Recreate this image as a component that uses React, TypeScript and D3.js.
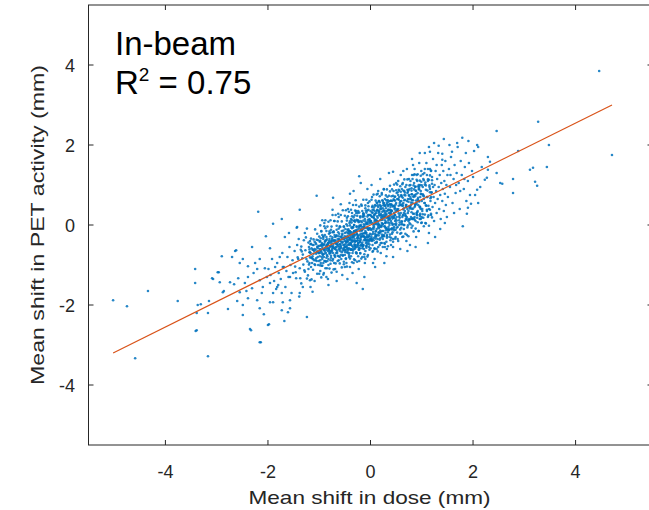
import React from "react";
import * as d3 from "d3";

// Tick values
const xTicks = [-4, -2, 0, 2, 4];
const yTicks = [-4, -2, 0, 2, 4];

// Scatter points [dose shift, PET shift], grouped by region
const outliersLeft: [number, number][] = [
  [-5.02,-1.88],[-4.75,-2.03],[-4.34,-1.65],[-4.59,-3.33],[-3.76,-1.90],[-3.42,-1.10],[-3.42,-1.45],[-3.41,-2.65],[-3.17,-3.28],[-3.31,-1.98],[-3.15,-1.90],[-3.17,-2.20],[-3.39,-2.20],[-3.39,-2.63],[-3.37,-2.00],[-3.09,-1.33],[-3.07,-1.35]
];

const lowerTail: [number, number][] = [
  [-2.64,-0.65],[-2.70,-0.80],[-2.90,-0.78],[-2.55,-0.95],[-2.98,-1.18],[-2.58,-1.33],[-2.74,-1.43],[-2.94,-1.43],[-2.88,-1.68],[-2.55,-1.68],[-2.62,-0.63],[-2.66,-1.48],[-2.86,-1.65],[-2.96,-1.18],[-2.60,-1.90],[-2.78,-2.10],
  [-2.04,-0.28],[-2.31,-0.55],[-2.16,-0.85],[-2.49,-0.85],[-2.39,-1.03],[-2.21,-1.10],[-2.06,-1.08],[-2.39,-1.30],[-2.16,-1.38],[-2.31,-1.58],[-2.12,-1.70],[-2.39,-1.83],[-2.21,-1.88],[-2.49,-2.00],[-2.16,-2.08],[-2.49,-2.25],[-2.35,-2.60],[-2.00,-2.50],[-2.16,-2.93],[-2.33,-2.63],[-2.14,-2.93],[-2.08,-2.23],[-2.19,0.33],[-2.45,-1.45],[-2.28,-1.20],[-2.10,-1.55],[-2.42,-1.65],[-2.25,-0.95],[-2.02,-1.30],
  [-1.98,-2.48],[-1.96,-0.58],[-1.96,-1.45],[-1.96,-1.93],[-1.90,0.03],[-1.90,-1.70],[-1.86,-1.05],[-1.80,-1.50],[-1.77,-0.80],[-1.73,0.15],[-1.73,-2.13],[-1.71,-1.93],[-1.67,-0.30],[-1.57,-2.08],
  [-1.99,-1.10],[-1.95,-1.25],[-1.92,-0.85],[-1.88,-1.40],[-1.84,-1.60],[-1.82,-0.95],[-1.79,-1.20],[-1.75,-1.35],[-1.72,-0.70],[-1.69,-1.05],[-1.66,-1.55],[-1.64,-1.15],[-1.62,-0.80],[-1.60,-1.30],[-1.58,-0.55],[-1.56,-1.00],[-1.54,-1.70],[-1.52,-0.88],[-1.51,-1.20],[-1.59,-0.20],[-1.68,-2.40],
  [-1.57,-1.30],[-1.71,-1.05],[-1.82,-1.55],[-1.73,-1.70],[-1.57,-1.88],[-1.90,-1.93],[-1.61,-2.18],[-1.24,-2.30],[-1.38,-1.70],[-1.32,-1.55],[-1.18,-1.38],[-1.38,0.38],[-1.43,-0.05],[-1.05,0.73],[-0.73,0.68]
];

const coreLeft: [number, number][] = [
  [-1.48,-0.65],[-1.45,-1.33],[-1.42,-0.81],[-1.40,-0.35],[-1.38,-1.08],[-1.36,-0.62],[-1.35,-1.46],[-1.33,-0.83],[-1.31,-0.99],[-1.30,-0.38],
  [-1.28,-1.17],[-1.27,-0.63],[-1.25,-0.85],[-1.24,-0.09],[-1.22,-1.26],[-1.21,-0.44],[-1.20,-0.99],[-1.18,-0.68],[-1.17,-1.55],[-1.16,-0.34],
  [-1.14,-0.83],[-1.13,-0.50],[-1.12,-1.12],[-1.10,-0.65],[-1.09,-0.98],[-1.08,-0.11],[-1.06,-0.83],[-1.05,-0.37],[-1.04,-1.22],[-1.02,-0.53],
  [-1.01,-0.70],[-1.47,-1.04],[-1.43,-0.50],[-1.39,-1.79],[-1.34,-0.66],[-1.29,-1.13],[-1.26,-0.31],[-1.23,-0.91],[-1.19,-0.61],[-1.15,-1.36],
  [-1.11,-0.36],[-1.07,-0.88],[-1.03,-0.66],[-1.44,-0.07],[-1.37,-1.33],[-1.32,-0.74],[-1.21,-1.10],[-1.16,-0.47],[-1.09,-1.40],[-1.04,-0.22],
  [-1.46,-1.18],[-1.41,-0.85],[-1.28,-0.20],[-1.18,-0.81],[-1.13,-1.67],[-1.06,-0.48],[-1.35,-0.54],[-1.24,-1.34],[-1.12,-0.62],[-1.02,-1.00],
  [-0.99,-0.42],[-0.98,-0.88],[-0.97,-0.61],[-0.96,-0.15],[-0.95,-1.02],[-0.94,-0.55],[-0.93,-0.73],[-0.92,-0.30],[-0.91,-1.20],[-0.90,-0.47],
  [-0.89,-0.66],[-0.88,-0.08],[-0.87,-0.92],[-0.86,-0.51],[-0.85,-0.36],[-0.84,-0.78],[-0.83,-1.35],[-0.82,-0.58],[-0.81,-0.22],[-0.80,-0.69],
  [-0.79,-0.44],[-0.78,-0.97],[-0.77,-0.12],[-0.76,-0.53],[-0.75,-0.64],[-0.74,-0.31],[-0.73,-0.85],[-0.72,-0.47],[-0.71,0.10],[-0.70,-0.58],
  [-0.69,-1.10],[-0.68,-0.39],[-0.67,-0.70],[-0.66,-0.26],[-0.65,-0.49],[-0.64,-0.90],[-0.63,-0.18],[-0.62,-0.61],[-0.61,-0.37],[-0.60,-0.80],
  [-0.59,-0.05],[-0.58,-0.52],[-0.57,-0.29],[-0.56,-0.68],[-0.55,-1.25],[-0.54,-0.42],[-0.53,-0.14],[-0.52,-0.57],[-0.51,-0.33],[-0.50,-0.75],
  [-0.99,-0.70],[-0.97,-0.33],[-0.95,-0.80],[-0.93,-0.50],[-0.91,-0.62],[-0.89,-0.25],[-0.87,-0.70],[-0.85,-1.08],[-0.83,-0.45],[-0.81,-0.60],
  [-0.79,-0.20],[-0.77,-0.77],[-0.75,-0.40],[-0.73,-0.56],[-0.71,-0.95],[-0.69,-0.30],[-0.67,-0.47],[-0.65,-0.66],[-0.63,0.28],[-0.61,-0.55],
  [-0.59,-0.40],[-0.57,-0.85],[-0.55,-0.22],[-0.53,-0.50],[-0.51,-0.62],[-0.96,-0.50],[-0.92,-0.95],[-0.88,-0.40],[-0.84,-0.58],[-0.80,-0.35],
  [-0.76,-0.66],[-0.72,-0.18],[-0.68,-0.55],[-0.64,-0.43],[-0.60,-0.60],[-0.56,-0.35],[-0.52,-0.92],[-0.94,-0.25],[-0.86,-0.82],[-0.78,-0.52],
  [-0.70,-0.75],[-0.62,-0.09],[-0.54,-0.64],[-0.98,-1.15],[-0.90,0.05],[-0.82,-1.50],[-0.74,0.38],[-0.66,-1.40],[-0.58,0.52],[-0.50,-1.05]
];

const coreCentre: [number, number][] = [
  [-0.50,-0.20],[-0.49,-0.55],[-0.48,-0.31],[-0.47,0.02],[-0.46,-0.68],[-0.45,-0.27],[-0.44,-0.42],[-0.43,-0.11],[-0.42,-0.80],[-0.41,-0.35],
  [-0.40,-0.16],[-0.39,-0.49],[-0.38,0.15],[-0.37,-0.62],[-0.36,-0.24],[-0.35,-0.38],[-0.34,-0.05],[-0.33,-0.95],[-0.32,-0.29],[-0.31,-0.51],
  [-0.30,0.08],[-0.29,-0.40],[-0.28,-0.18],[-0.27,-0.71],[-0.26,-0.33],[-0.25,0.30],[-0.24,-0.46],[-0.23,-0.09],[-0.22,-0.58],[-0.21,-0.25],
  [-0.20,-0.02],[-0.19,-0.37],[-0.18,-0.84],[-0.17,-0.14],[-0.16,-0.44],[-0.15,0.20],[-0.14,-0.28],[-0.13,-0.60],[-0.12,-0.06],[-0.11,-0.35],
  [-0.10,0.42],[-0.09,-0.19],[-0.08,-0.52],[-0.07,0.04],[-0.06,-0.31],[-0.05,-0.75],[-0.04,-0.12],[-0.03,0.25],[-0.02,-0.40],[-0.01,-0.08],
  [-0.49,-0.10],[-0.47,-0.44],[-0.45,-0.58],[-0.43,-0.30],[-0.41,0.05],[-0.39,-0.25],[-0.37,-0.40],[-0.35,-0.70],[-0.33,-0.20],[-0.31,0.12],
  [-0.29,-0.55],[-0.27,-0.05],[-0.25,-0.38],[-0.23,-0.62],[-0.21,-0.15],[-0.19,0.10],[-0.17,-0.48],[-0.15,-0.22],[-0.13,-0.38],[-0.11,0.15],
  [-0.09,-0.45],[-0.07,-0.25],[-0.05,0.08],[-0.03,-0.55],[-0.01,-0.22],[-0.48,-0.85],[-0.46,0.18],[-0.44,-0.20],[-0.42,-0.50],[-0.40,-0.36],
  [-0.38,-0.78],[-0.36,-0.08],[-0.34,-0.30],[-0.32,-0.60],[-0.30,-0.42],[-0.28,0.35],[-0.26,-0.12],[-0.24,-0.28],[-0.22,-0.90],[-0.20,-0.33],
  [-0.18,-0.10],[-0.16,-0.58],[-0.14,0.28],[-0.12,-0.20],[-0.10,-0.65],[-0.08,-0.30],[-0.06,0.02],[-0.04,-0.45],[-0.02,0.15],[-0.50,-0.40],
  [-0.46,-0.35],[-0.42,-0.15],[-0.38,-0.45],[-0.34,-0.55],[-0.30,-0.25],[-0.26,-0.50],[-0.22,-0.05],[-0.18,-0.30],[-0.14,-0.50],[-0.10,-0.15],
  [-0.06,-0.48],[-0.02,-0.28],[-0.48,-0.62],[-0.44,0.40],[-0.40,-1.05],[-0.36,-0.52],[-0.32,0.00],[-0.28,-0.68],[-0.24,0.12],[-0.20,-0.52],
  [-0.16,-0.28],[-0.12,-0.80],[-0.08,0.05],[-0.04,-0.30],[-0.45,-0.12],[-0.39,-0.62],[-0.33,-0.40],[-0.27,-0.22],[-0.21,-0.42],[-0.15,-0.05],
  [-0.09,-0.38],[-0.03,-0.10],[-0.47,-0.95],[-0.41,0.55],[-0.35,-1.20],[-0.29,0.62],[-0.23,-1.10],[-0.17,0.48],[-0.11,-0.95],[-0.05,0.55],
  [-0.44,-0.70],[-0.38,-0.30],[-0.32,-0.15],[-0.26,-0.40],[-0.20,-0.70],[-0.14,-0.10],[-0.08,-0.20],[-0.02,-0.62],[-0.43,-0.48],[-0.37,-0.18],
  [-0.31,-0.35],[-0.25,-0.55],[-0.19,-0.22],[-0.13,0.02],[-0.07,-0.42],[-0.01,-0.35],[-0.33,0.85],[-0.19,1.05],[-0.27,-1.45],[-0.12,-1.30],
  [-0.22,1.22],[-0.40,0.78],[-0.06,0.90],[-0.15,-1.60],[-0.45,-1.35],[-0.30,-0.88],[-0.10,-0.85],[-0.36,0.30],[-0.04,0.38],[-0.24,-0.78],
  [0.01,-0.12],[0.02,0.22],[0.03,-0.40],[0.04,0.05],[0.05,-0.22],[0.06,0.38],[0.07,-0.05],[0.08,-0.58],[0.09,0.12],[0.10,-0.28],
  [0.11,0.30],[0.12,-0.10],[0.13,0.55],[0.14,-0.35],[0.15,0.08],[0.16,-0.18],[0.17,0.25],[0.18,-0.50],[0.19,0.40],[0.20,-0.02],
  [0.21,0.18],[0.22,-0.30],[0.23,0.62],[0.24,0.02],[0.25,-0.15],[0.26,0.35],[0.27,-0.45],[0.28,0.12],[0.29,0.48],[0.30,-0.08],
  [0.31,0.25],[0.32,-0.25],[0.33,0.70],[0.34,0.06],[0.35,0.38],[0.36,-0.12],[0.37,0.52],[0.38,0.15],[0.39,-0.38],[0.40,0.30],
  [0.41,0.05],[0.42,0.60],[0.43,-0.18],[0.44,0.22],[0.45,0.85],[0.46,-0.05],[0.47,0.40],[0.48,0.10],[0.49,-0.30],[0.50,0.55],
  [0.02,-0.30],[0.04,0.30],[0.06,-0.10],[0.08,0.15],[0.10,0.48],[0.12,-0.42],[0.14,0.18],[0.16,0.02],[0.18,-0.20],[0.20,0.28],
  [0.22,0.05],[0.24,0.42],[0.26,-0.28],[0.28,0.30],[0.30,0.08],[0.32,0.52],[0.34,-0.18],[0.36,0.22],[0.38,0.60],[0.40,-0.10],
  [0.42,0.35],[0.44,-0.35],[0.46,0.48],[0.48,0.25],[0.03,0.45],[0.07,-0.32],[0.11,0.02],[0.15,-0.55],[0.19,0.12],[0.23,-0.15],
  [0.27,0.20],[0.31,-0.42],[0.35,0.12],[0.39,0.45],[0.43,0.00],[0.47,0.70],[0.01,0.10],[0.05,-0.65],[0.09,0.28],[0.13,-0.25],
  [0.17,0.60],[0.21,-0.05],[0.25,0.25],[0.29,-0.20],[0.33,0.35],[0.37,-0.30],[0.41,0.72],[0.45,0.18],[0.49,-0.12],[0.03,0.70],
  [0.08,-0.85],[0.14,0.78],[0.20,-0.70],[0.26,0.90],[0.32,-0.60],[0.38,0.98],[0.44,-0.55],[0.50,1.05],[0.11,-0.15],[0.17,0.00],
  [0.23,0.15],[0.29,0.05],[0.35,-0.05],[0.41,0.20],[0.47,0.02],[0.06,0.18],[0.12,0.35],[0.18,0.50],[0.24,-0.35],[0.30,0.42],
  [0.36,0.30],[0.42,-0.22],[0.48,0.42],[0.04,-0.50],[0.10,0.05],[0.16,0.30],[0.22,-0.45],[0.28,0.65],[0.34,0.20],[0.40,0.10],
  [0.46,0.30],[0.02,1.00],[0.09,-1.05],[0.19,1.15],[0.27,-0.95],[0.36,1.30],[0.44,-0.80],[0.15,0.85],[0.31,-0.78],[0.05,-0.95],
  [0.13,0.10],[0.21,0.40],[0.33,-0.10],[0.39,0.25],[0.07,0.25],[0.25,0.55],[0.43,0.48],[0.49,0.15],[0.18,-0.05],[0.35,0.58],
  [0.01,-0.38],[0.12,-0.60],[0.24,0.20],[0.37,0.05],[0.46,0.62],[0.28,-0.55],[0.15,0.45],[0.40,-0.50],[0.09,-0.45],[0.22,0.80]
];

// Densest part of the blob, left of centre
const denseLeft: [number, number][] = [
  [-1.20,-0.55],[-1.19,-0.95],[-1.18,-0.40],[-1.17,-0.70],[-1.16,-1.05],[-1.15,-0.58],[-1.14,-0.95],[-1.13,-0.62],[-1.12,-0.85],
  [-1.11,-0.50],[-1.10,-0.88],[-1.09,-0.60],[-1.08,-1.00],[-1.07,-0.45],[-1.06,-0.72],[-1.05,-0.90],[-1.04,-0.55],[-1.03,-0.80],[-1.02,-0.38],
  [-1.01,-0.90],[-1.00,-0.52],[-0.99,-0.78],[-0.98,-0.40],[-0.97,-0.95],[-0.96,-0.66],[-0.95,-0.45],[-0.94,-0.85],[-0.93,-0.60],[-0.92,-0.35],
  [-0.91,-0.80],[-0.90,-0.62],[-0.89,-0.42],[-0.88,-0.90],[-0.87,-0.55],[-0.86,-0.30],[-0.85,-0.75],[-0.84,-0.48],[-0.83,-0.65],[-0.82,-0.85],
  [-0.81,-0.40],[-0.80,-0.72],[-0.79,-0.55],[-0.78,-0.28],[-0.77,-0.82],[-0.76,-0.45],[-0.75,-0.60],[-0.74,-0.18],[-0.73,-0.70],[-0.72,-0.38],
  [-0.71,-0.58],[-0.70,-0.25],[-0.69,-0.80],[-0.68,-0.45],[-0.67,-0.62],[-0.66,-0.12],[-0.65,-0.70],[-0.64,-0.35],[-0.63,-0.52],[-0.62,-0.78],
  [-0.61,-0.22],[-0.60,-0.48],[-0.59,-0.65],[-0.58,-0.30],[-0.57,-0.58],[-0.56,-0.15],[-0.55,-0.45],[-0.54,-0.75],[-0.53,-0.35],[-0.52,-0.05],
  [-0.51,-0.50],[-0.50,-0.28],[-0.49,-0.68],[-0.48,-0.42],[-0.47,-0.18],[-0.46,-0.52],[-0.45,-0.02],[-0.44,-0.60],[-0.43,-0.38],[-0.42,-0.22],[-0.41,-0.70],[-0.40,-0.45],
  [-1.19,-0.68],[-1.15,-0.82],[-1.11,-0.72],[-1.07,-0.62],[-1.03,-0.58],[-0.99,-0.60],[-0.95,-0.70],[-0.91,-0.50],[-0.87,-0.38],[-0.83,-0.50],
  [-0.79,-0.65],[-0.75,-0.35],[-0.71,-0.40],[-0.67,-0.28],[-0.63,-0.40],[-0.59,-0.48],[-0.55,-0.25],[-0.51,-0.35],[-0.47,-0.55],[-0.43,-0.15],
  [-1.17,-0.48],[-1.13,-0.78],[-1.09,-0.42],[-1.05,-0.68],[-1.01,-0.70],[-0.97,-0.52],[-0.93,-0.75],[-0.89,-0.58],[-0.85,-0.52],[-0.81,-0.62],
  [-0.77,-0.40],[-0.73,-0.52],[-0.69,-0.60],[-0.65,-0.48],[-0.61,-0.35],[-0.57,-0.42],[-0.53,-0.60],[-0.49,-0.48],[-0.45,-0.30],[-0.41,-0.32],
  [-0.98,-0.65],[-0.94,-0.48],[-0.90,-0.72],[-0.86,-0.62],[-0.82,-0.45],[-0.78,-0.70],[-0.74,-0.55],[-0.70,-0.38],[-0.66,-0.55],[-0.62,-0.28],
  [-0.58,-0.55],[-0.54,-0.32],[-0.50,-0.55],[-0.46,-0.40],[-0.42,-0.58]
];

// Densest part of the blob, around the origin
const denseMiddle: [number, number][] = [
  [-0.40,-0.16],[-0.38,-0.49],[-0.36,0.12],[-0.34,-0.27],[-0.32,0.00],[-0.30,-0.59],[-0.28,-0.16],[-0.26,0.11],[-0.24,-0.33],[-0.22,0.31],
  [-0.20,-0.43],[-0.18,-0.04],[-0.16,-0.22],[-0.14,0.29],[-0.12,-0.30],[-0.10,0.09],[-0.08,-0.53],[-0.06,0.21],[-0.04,-0.11],[-0.02,0.04],
  [0.00,0.10],[0.02,-0.24],[0.04,0.38],[0.06,-0.01],[0.08,0.25],[0.10,-0.34],[0.12,0.10],[0.14,0.37],[0.16,-0.08],[0.18,0.57],
  [0.20,-0.17],[0.22,0.22],[0.24,0.03],[0.26,0.55],[0.28,-0.04],[0.30,0.34],[0.32,-0.28],[0.34,0.47],[0.36,0.15],[0.38,0.29],[0.40,0.36],
  [-0.39,-0.60],[-0.37,-0.06],[-0.35,-0.32],[-0.33,0.19],[-0.31,-0.48],[-0.29,-0.13],[-0.27,0.13],[-0.25,-0.31],[-0.23,0.07],[-0.21,-0.58],
  [-0.19,0.00],[-0.17,-0.13],[-0.15,0.23],[-0.13,-0.28],[-0.11,-0.07],[-0.09,0.36],[-0.07,-0.37],[-0.05,0.13],[-0.03,-0.08],[-0.01,0.25],
  [0.01,-0.34],[0.03,0.20],[0.05,-0.07],[0.07,0.44],[0.09,-0.22],[0.11,0.13],[0.13,0.38],[0.15,-0.05],[0.17,0.33],[0.19,-0.33],
  [0.21,0.25],[0.23,0.13],[0.25,0.49],[0.27,-0.03],[0.29,0.19],[0.31,0.62],[0.33,-0.12],[0.35,0.38],[0.37,0.18],[0.39,0.51],
  [-0.40,-0.01],[-0.38,-0.36],[-0.36,-0.61],[-0.34,-0.06],[-0.32,-0.16],[-0.30,-0.41],[-0.28,0.30],[-0.26,-0.23],[-0.24,-0.45],[-0.22,-0.02],
  [-0.20,0.19],[-0.18,-0.28],[-0.16,-0.52],[-0.14,0.11],[-0.12,-0.02],[-0.10,-0.32],[-0.08,0.31],[-0.06,-0.06],[-0.04,-0.37],[-0.02,0.13],
  [0.00,0.25],[0.02,-0.11],[0.04,-0.35],[0.06,0.20],[0.08,0.09],[0.10,-0.16],[0.12,0.56],[0.14,0.03],[0.16,-0.20],[0.18,0.24],
  [0.20,0.45],[0.22,-0.02],[0.24,-0.27],[0.26,0.37],[0.28,0.24],[0.30,-0.07],[0.32,0.56],[0.34,0.20],[0.36,-0.11],[0.38,0.38],[0.40,0.51],
  [-0.39,-0.20],[-0.37,0.06],[-0.35,-0.42],[-0.33,-0.23],[-0.31,0.24],[-0.29,-0.55],[-0.27,-0.03],[-0.25,-0.26],[-0.23,0.09],[-0.21,-0.39],
  [-0.19,-0.12],[-0.17,0.07],[-0.15,-0.54],[-0.13,0.26],[-0.11,-0.21],[-0.09,0.02],[-0.07,-0.08],[-0.05,0.25],[-0.03,-0.26],[-0.01,0.09],
  [0.01,0.06],[0.03,0.32],[0.05,-0.17],[0.07,0.02],[0.09,0.50],[0.11,-0.29],[0.13,0.22],[0.15,0.00],[0.17,0.35],[0.19,-0.14],
  [0.21,0.13],[0.23,0.33],[0.25,-0.28],[0.27,0.51],[0.29,0.05],[0.31,0.28],[0.33,0.17],[0.35,0.50],[0.37,0.00],[0.39,0.35]
];

// Densest part of the blob, right of centre
const denseRight: [number, number][] = [
  [0.41,0.36],[0.43,0.03],[0.45,0.64],[0.47,0.25],[0.49,0.51],[0.51,-0.07],[0.53,0.36],[0.55,0.63],[0.57,0.18],[0.59,0.83],
  [0.61,0.09],[0.63,0.48],[0.65,0.30],[0.67,0.81],[0.69,0.22],[0.71,0.60],[0.73,-0.01],[0.75,0.73],[0.77,0.41],[0.79,0.56],
  [0.81,0.62],[0.83,0.28],[0.85,0.89],[0.87,0.51],[0.89,0.77],[0.91,0.18],[0.93,0.62],[0.95,0.89],[0.97,0.44],[0.99,1.08],
  [1.01,0.35],[1.03,0.74],[1.05,0.55],[1.07,1.06],[1.09,0.48],[1.11,0.86],[1.13,0.24],[1.15,0.99],[1.17,0.67],[1.19,0.81],
  [0.42,-0.08],[0.44,0.46],[0.46,0.19],[0.48,0.71],[0.50,0.04],[0.52,0.39],[0.54,0.65],[0.56,0.21],[0.58,0.59],[0.60,-0.07],
  [0.62,0.52],[0.64,0.39],[0.66,0.75],[0.68,0.24],[0.70,0.45],[0.72,0.88],[0.74,0.14],[0.76,0.65],[0.78,0.44],[0.80,0.77],
  [0.82,0.17],[0.84,0.72],[0.86,0.45],[0.88,0.96],[0.90,0.30],[0.92,0.65],[0.94,0.90],[0.96,0.46],[0.98,0.85],[1.00,0.19],
  [1.02,0.77],[1.04,0.65],[1.06,1.01],[1.08,0.49],[1.10,0.70],[1.12,1.14],[1.14,0.40],[1.16,0.90],[1.18,0.70],[1.20,1.03],
  [0.41,0.51],[0.43,0.16],[0.45,-0.09],[0.47,0.46],[0.49,0.35],[0.51,0.11],[0.53,0.82],[0.55,0.29],[0.57,0.06],[0.59,0.50],
  [0.61,0.71],[0.63,0.24],[0.65,0.00],[0.67,0.63],[0.69,0.50],[0.71,0.19],[0.73,0.83],[0.75,0.46],[0.77,0.15],[0.79,0.65],
  [0.81,0.77],[0.83,0.41],[0.85,0.16],[0.87,0.72],[0.89,0.61],[0.91,0.32],[0.93,0.96],[0.95,0.59],[0.97,0.28],[0.99,0.77]
];

// Upper and lower edges of the dense band
const denseEdges: [number, number][] = [
  [-1.00,-0.29],[-1.00,-1.22],[-0.98,-0.01],[-0.98,-1.01],[-0.96,-0.16],[-0.96,-1.31],[-0.94,0.12],[-0.94,-1.02],[-0.92,-0.29],[-0.92,-1.24],
  [-0.90,-0.03],[-0.90,-0.90],[-0.88,0.12],[-0.88,-1.08],[-0.86,-0.15],[-0.86,-1.30],[-0.84,-0.04],[-0.84,-0.90],[-0.82,0.08],[-0.82,-1.00],
  [-0.80,-0.16],[-0.80,-1.09],[-0.78,0.12],[-0.78,-0.88],[-0.76,-0.04],[-0.76,-1.19],[-0.74,0.25],[-0.74,-0.89],[-0.72,-0.16],[-0.72,-1.11],
  [-0.70,0.10],[-0.70,-0.77],[-0.68,0.25],[-0.68,-0.96],[-0.66,-0.02],[-0.66,-1.17],[-0.64,0.09],[-0.64,-0.77],[-0.62,0.20],[-0.62,-0.88],
  [-0.60,-0.03],[-0.60,-0.96],[-0.58,0.25],[-0.58,-0.75],[-0.56,0.09],[-0.56,-1.06],[-0.54,0.37],[-0.54,-0.77],[-0.52,-0.03],[-0.52,-0.98],
  [-0.50,0.23],[-0.50,-0.64],[-0.48,0.37],[-0.48,-0.83],[-0.46,0.11],[-0.46,-1.04],[-0.44,0.22],[-0.44,-0.64],[-0.42,0.33],[-0.42,-0.75],
  [-0.40,0.09],[-0.40,-0.84],[-0.38,0.38],[-0.38,-0.62],[-0.36,0.22],[-0.36,-0.93],[-0.34,0.50],[-0.34,-0.64],[-0.32,0.10],[-0.32,-0.86],
  [-0.30,0.36],[-0.30,-0.51],[-0.28,0.50],[-0.28,-0.70],[-0.26,0.23],[-0.26,-0.92],[-0.24,0.35],[-0.24,-0.51],[-0.22,0.46],[-0.22,-0.62],
  [-0.20,0.22],[-0.20,-0.71],[-0.18,0.51],[-0.18,-0.50],[-0.16,0.35],[-0.16,-0.80],[-0.14,0.63],[-0.14,-0.51],[-0.12,0.22],[-0.12,-0.73],
  [-0.10,0.49],[-0.10,-0.38],[-0.08,0.63],[-0.08,-0.57],[-0.06,0.36],[-0.06,-0.79],[-0.04,0.47],[-0.04,-0.39],[-0.02,0.59],[-0.02,-0.49],
  [0.00,0.35],[0.00,-0.58],[0.02,0.63],[0.02,-0.37],[0.04,0.48],[0.04,-0.67],[0.06,0.76],[0.06,-0.38],[0.08,0.35],[0.08,-0.60],
  [0.10,0.61],[0.10,-0.26],[0.12,0.76],[0.12,-0.44],[0.14,0.49],[0.14,-0.66],[0.16,0.60],[0.16,-0.26],[0.18,0.72],[0.18,-0.37],
  [0.20,0.48],[0.20,-0.45],[0.22,0.76],[0.22,-0.24],[0.24,0.60],[0.24,-0.55],[0.26,0.89],[0.26,-0.25],[0.28,0.48],[0.28,-0.47],
  [0.30,0.74],[0.30,-0.13],[0.32,0.89],[0.32,-0.32],[0.34,0.62],[0.34,-0.53],[0.36,0.73],[0.36,-0.13],[0.38,0.84],[0.38,-0.24],
  [0.40,0.61],[0.40,-0.32],[0.42,0.89],[0.42,-0.11],[0.44,0.73],[0.44,-0.42],[0.46,1.01],[0.46,-0.13],[0.48,0.61],[0.48,-0.34],
  [0.50,0.87],[0.50,0.00],[0.52,1.01],[0.52,-0.19],[0.54,0.75],[0.54,-0.40],[0.56,0.86],[0.56,0.00],[0.58,0.97],[0.58,-0.11],
  [0.60,0.73],[0.60,-0.20],[0.62,1.02],[0.62,0.02],[0.64,0.86],[0.64,-0.29],[0.66,1.14],[0.66,0.00],[0.68,0.74],[0.68,-0.22],
  [0.70,1.00],[0.70,0.13],[0.72,1.14],[0.72,-0.06],[0.74,0.87],[0.74,-0.28],[0.76,0.99],[0.76,0.13],[0.78,1.10],[0.78,0.02],
  [0.80,0.86],[0.80,-0.07],[0.82,1.15],[0.82,0.15],[0.84,0.99],[0.84,-0.16],[0.86,1.27],[0.86,0.13],[0.88,0.86],[0.88,-0.09],
  [0.90,1.13],[0.90,0.26],[0.92,1.27],[0.92,0.07],[0.94,1.00],[0.94,-0.15],[0.96,1.11],[0.96,0.25],[0.98,1.23],[0.98,0.15],
  [1.00,0.99],[1.00,0.06],[1.02,1.27],[1.02,0.27],[1.04,1.12],[1.04,-0.03],[1.06,1.40],[1.06,0.26],[1.08,0.99],[1.08,0.04],
  [1.10,1.25],[1.10,0.38],[1.12,1.40],[1.12,0.20],[1.14,1.13],[1.14,-0.02],[1.16,1.24],[1.16,0.38],[1.18,1.36],[1.18,0.28],
  [1.20,1.12],[1.20,0.19]
];

const coreRight: [number, number][] = [
  [0.51,0.20],[0.52,0.65],[0.53,-0.05],[0.54,0.40],[0.55,0.88],[0.56,0.12],[0.57,0.55],[0.58,-0.22],[0.59,0.30],[0.60,0.75],
  [0.61,0.08],[0.62,0.48],[0.63,1.05],[0.64,0.25],[0.65,-0.10],[0.66,0.62],[0.67,0.35],[0.68,0.95],[0.69,0.15],[0.70,0.50],
  [0.71,-0.25],[0.72,0.80],[0.73,0.30],[0.74,0.58],[0.75,1.15],[0.76,0.05],[0.77,0.45],[0.78,0.70],[0.79,0.20],[0.80,0.92],
  [0.81,0.40],[0.82,-0.02],[0.83,0.62],[0.84,1.25],[0.85,0.28],[0.86,0.75],[0.87,0.48],[0.88,0.10],[0.89,0.85],[0.90,0.55],
  [0.91,1.10],[0.92,0.35],[0.93,0.68],[0.94,-0.15],[0.95,0.95],[0.96,0.45],[0.97,0.22],[0.98,0.78],[0.99,1.35],[1.00,0.60],
  [0.52,0.35],[0.56,0.70],[0.60,0.02],[0.64,0.55],[0.68,0.28],[0.72,0.40],[0.76,0.90],[0.80,0.32],[0.84,0.70],[0.88,0.52],
  [0.92,0.80],[0.96,0.15],[0.54,1.10],[0.58,0.50],[0.62,0.20],[0.66,0.85],[0.70,-0.40],[0.74,0.35],[0.78,1.00],[0.82,0.55],
  [0.86,0.20],[0.90,1.25],[0.94,0.60],[0.98,0.40],[0.53,-0.35],[0.59,1.25],[0.65,0.42],[0.71,1.40],[0.77,-0.50],[0.83,1.50],
  [0.89,-0.30],[0.95,1.55],[0.99,0.05],[0.57,0.25],[0.63,0.68],[0.69,0.45],[0.75,0.75],[0.81,0.15],[0.87,0.95],[0.93,0.50],
  [0.97,0.70],[0.55,0.48],[0.61,0.90],[0.67,0.10],[0.73,0.65],[0.79,0.50],[0.85,1.05],[0.91,0.25],[0.97,1.00],[0.51,0.80],
  [0.58,-0.60],[0.64,1.35],[0.72,-0.65],[0.81,1.65],[0.88,-0.55],[0.96,1.80],[0.62,-0.30],[0.86,1.40],[0.74,0.10],[0.60,0.60],
  [0.44,1.33],[0.81,1.25]
];

const upperTail: [number, number][] = [
  [1.01,0.40],[1.02,0.95],[1.03,0.18],[1.04,0.72],[1.05,1.30],[1.06,0.55],[1.07,0.05],[1.08,0.88],[1.09,1.55],[1.10,0.35],
  [1.11,0.70],[1.12,1.10],[1.13,0.48],[1.14,-0.20],[1.15,0.95],[1.16,1.40],[1.17,0.60],[1.18,0.25],[1.19,0.82],[1.20,1.20],
  [1.21,0.45],[1.22,1.65],[1.23,0.70],[1.24,0.10],[1.25,1.00],[1.26,0.55],[1.27,1.35],[1.28,0.85],[1.29,0.30],[1.30,1.15],
  [1.31,0.65],[1.32,1.80],[1.33,0.95],[1.34,0.40],[1.35,1.25],[1.36,0.75],[1.37,0.15],[1.38,1.05],[1.39,1.50],[1.40,0.60],
  [1.41,0.90],[1.42,1.35],[1.43,0.35],[1.44,1.10],[1.45,0.78],[1.46,1.60],[1.47,0.50],[1.48,1.00],[1.49,0.20],[1.50,1.25],
  [1.06,1.80],[1.14,1.95],[1.24,2.05],[1.33,1.98],[1.43,2.15],[1.12,-0.45],[1.26,-0.30],[1.36,-0.10],[1.45,0.05],[1.18,1.35],
  [1.29,1.50],[1.03,1.15],[1.40,1.78],[1.16,0.82],[1.22,0.95],[1.16,1.83],[1.40,1.63],
  [1.51,0.70],[1.53,1.40],[1.55,0.95],[1.57,1.70],[1.59,1.83],[1.60,0.55],[1.62,1.15],[1.64,1.50],[1.66,0.80],[1.68,1.30],
  [1.70,1.95],[1.72,1.05],[1.74,0.40],[1.76,1.60],[1.78,1.25],[1.79,2.18],[1.80,-0.03],[1.82,0.90],[1.84,1.45],[1.86,1.80],
  [1.88,0.28],[1.90,1.10],[1.92,1.55],[1.94,0.75],[1.96,0.53],[1.98,1.35],[1.56,1.25],[1.63,0.30],[1.69,2.05],[1.75,0.85],
  [1.83,1.15],[1.91,2.10],[1.54,2.00],[1.67,1.00],[1.87,0.60],[1.90,0.43]
];

const outliersRight: [number, number][] = [
  [2.02,1.85],[2.00,1.20],[2.04,0.75],[2.08,2.00],[2.08,0.88],[2.10,1.95],[2.10,0.55],[2.14,0.95],[2.17,1.45],[2.23,1.13],[2.27,1.18],[2.29,1.70],[2.29,1.38],[2.33,1.58],[2.46,2.35],[2.46,1.30],[2.53,1.05],[2.57,1.03],[2.78,1.15],[2.78,0.80],[2.88,1.85],[3.11,1.38],[3.17,1.43],[3.21,1.08],[3.25,0.98],[3.27,2.58],[3.44,1.45],[3.48,2.00],[4.46,3.85],[4.71,1.75]
];

// Least-squares fit line endpoints (dose range of the data)
const fitDose = [-5.02, 4.71];
const fitPet = [-3.2, 3.0];

const W = 649, H = 510;
const left = 88.5, right = 652.5, top = 5, bottom = 445;
const axisColor = "#262626";
const font = "'Liberation Sans', Arial, Helvetica, sans-serif";

export default function App() {
  const x = d3.scaleLinear().domain([-5.5, 5.5]).range([left, right]);
  const y = d3.scaleLinear().domain([-5.5, 5.5]).range([bottom, top]);
  const points = [
    ...outliersLeft, ...lowerTail, ...coreLeft, ...coreCentre, ...denseLeft, ...denseMiddle, ...denseRight,
    ...denseEdges, ...coreRight, ...upperTail, ...outliersRight,
  ];
  const line = d3.line<number>().x((_, i) => x(fitDose[i])).y((d) => y(d));
  const tickLen = 5;
  return (
    <svg width={W} height={H} style={{ position: "absolute", left: 0, top: 0, background: "#fff" }}>
      <defs>
        <clipPath id="plot">
          <rect x={left} y={top} width={right - left} height={bottom - top} />
        </clipPath>
      </defs>
      <g clipPath="url(#plot)">
        {points.map((p, i) => (
          <circle key={i} cx={x(p[0])} cy={y(p[1])} r={1.3} fill="#0072BD" fillOpacity={0.85} />
        ))}
        <path d={line(fitPet) || ""} stroke="#D95319" strokeWidth={1.2} fill="none" />
      </g>
      <rect x={left} y={top} width={right - left} height={bottom - top} fill="none" stroke={axisColor} strokeWidth={1} />
      {xTicks.map((t) => (
        <g key={"x" + t}>
          <line x1={x(t)} x2={x(t)} y1={bottom} y2={bottom - tickLen} stroke={axisColor} />
          <line x1={x(t)} x2={x(t)} y1={top} y2={top + tickLen} stroke={axisColor} />
          <text x={x(t)} y={478} textAnchor="middle" fontFamily={font} fontSize={18} fill={axisColor}>
            {t}
          </text>
        </g>
      ))}
      {yTicks.map((t) => (
        <g key={"y" + t}>
          <line x1={left} x2={left + tickLen} y1={y(t)} y2={y(t)} stroke={axisColor} />
          <line x1={right} x2={right - tickLen} y1={y(t)} y2={y(t)} stroke={axisColor} />
          <text x={75} y={y(t) + 6.5} textAnchor="end" fontFamily={font} fontSize={18} fill={axisColor}>
            {t}
          </text>
        </g>
      ))}
      <text x={(left + right) / 2 - 1} y={504} textAnchor="middle" fontFamily={font} fontSize={19}
        textLength={242} lengthAdjust="spacingAndGlyphs" fill={axisColor}>
        Mean shift in dose (mm)
      </text>
      <text transform={`translate(44,${(top + bottom) / 2}) rotate(-90)`} textAnchor="middle" fontFamily={font} fontSize={19}
        textLength={320} lengthAdjust="spacingAndGlyphs" fill={axisColor}>
        Mean shift in PET activity (mm)
      </text>
      <text x={115} y={55} fontFamily={font} fontSize={33} fill="#000">In-beam</text>
      <text x={115} y={94} fontFamily={font} fontSize={33} fill="#000">
        R<tspan fontSize={19} dy={-13}>2</tspan>
        <tspan dy={13}> = 0.75</tspan>
      </text>
    </svg>
  );
}
